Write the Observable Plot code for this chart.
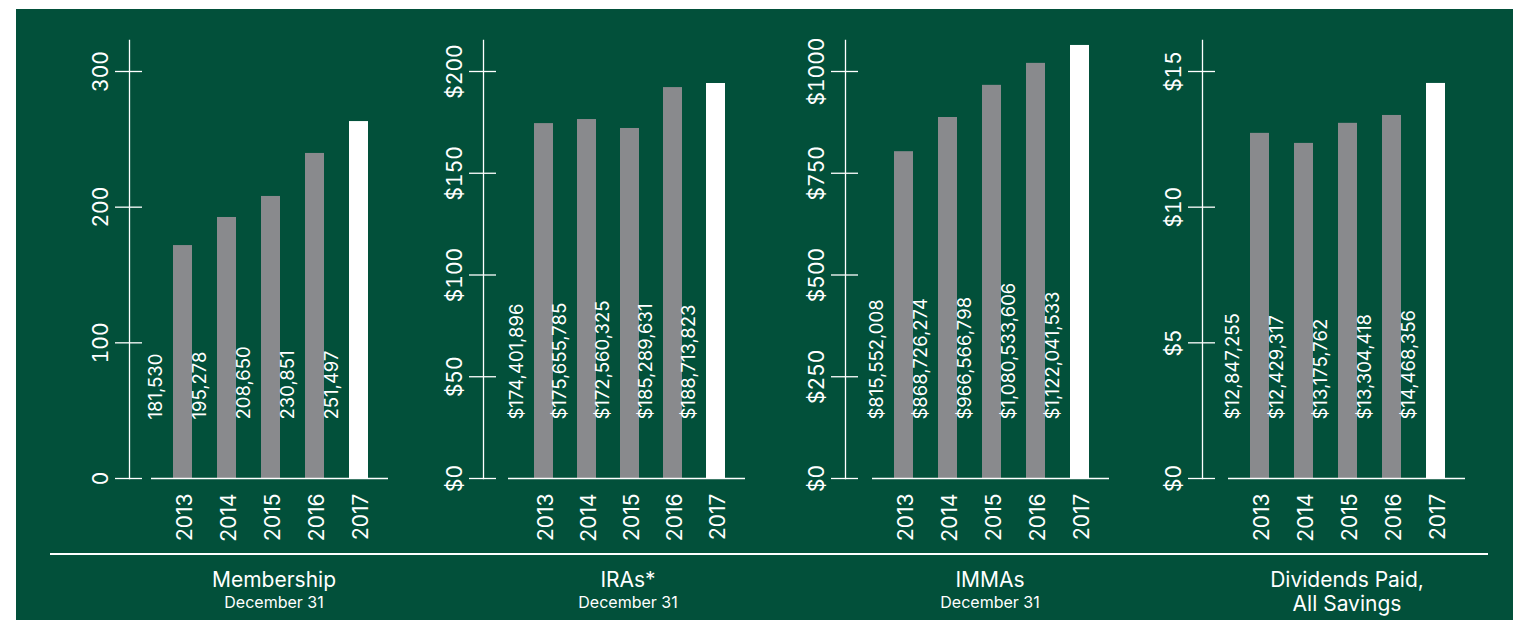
<!DOCTYPE html>
<html><head><meta charset="utf-8">
<script src="https://cdn.jsdelivr.net/npm/d3@7"></script>
<script src="https://cdn.jsdelivr.net/npm/@observablehq/plot@0.6"></script>
<style>
body{margin:0;background:#fff;width:1513px;height:620px;overflow:hidden;position:relative;font-family:Inter,"DejaVu Sans",sans-serif;}
#bg{position:absolute;left:16px;top:9px;right:0;bottom:0;background:#02503a;}
#sep{position:absolute;left:50px;width:1438px;top:553px;height:1.5px;background:#fff;}
.panel{position:absolute;top:0;width:380px;height:545px;}
.panel svg{max-width:none !important;}
.title{position:absolute;top:568px;width:280px;text-align:center;color:#fff;font-size:21px;line-height:24px;}
.sub{display:block;font-size:16px;line-height:19px;margin-top:1px;}
</style></head><body>
<div id="bg"></div><div id="sep"></div>
<div id="root"></div>
<script>
const years = ["2013", "2014", "2015", "2016", "2017"];
const highlightYear = "2017";

const membershipValues = [171.7, 192.4, 207.9, 239.6, 263.1];
const membershipLabels = ["181,530", "195,278", "208,650", "230,851", "251,497"];
const membershipTicks = [0, 100, 200, 300];
const membershipTickLabels = ["0", "100", "200", "300"];

const iraValues = [174.4, 176.4, 172.0, 192.1, 194.1];
const iraLabels = ["$174,401,896", "$175,655,785", "$172,560,325", "$185,289,631", "$188,713,823"];
const iraTicks = [0, 50, 100, 150, 200];
const iraTickLabels = ["$0", "$50", "$100", "$150", "$200"];

const immaValues = [803, 887, 966, 1020, 1064];
const immaLabels = ["$815,552,008", "$868,726,274", "$966,566,798", "$1,080,533,606", "$1,122,041,533"];
const immaTicks = [0, 250, 500, 750, 1000];
const immaTickLabels = ["$0", "$250", "$500", "$750", "$1000"];

const dividendValues = [12.72, 12.35, 13.09, 13.38, 14.56];
const dividendLabels = ["$12,847,255", "$12,429,317", "$13,175,762", "$13,304,418", "$14,468,356"];
const dividendTicks = [0, 5, 10, 15];
const dividendTickLabels = ["$0", "$5", "$10", "$15"];

const titles = ["Membership", "IRAs*", "IMMAs", "Dividends Paid,<br>All Savings"];
const subtitles = ["December 31", "December 31", "December 31", ""];

const panels = [
  {values: membershipValues, labels: membershipLabels, ticks: membershipTicks, tickLabels: membershipTickLabels},
  {values: iraValues, labels: iraLabels, ticks: iraTicks, tickLabels: iraTickLabels},
  {values: immaValues, labels: immaLabels, ticks: immaTicks, tickLabels: immaTickLabels},
  {values: dividendValues, labels: dividendLabels, ticks: dividendTicks, tickLabels: dividendTickLabels}
];

// layout (page pixel positions)
const layout = [
  {axis: 129, bars: [172, 369], base: [151, 388]},
  {axis: 483, bars: [532, 726], base: [508, 745]},
  {axis: 845, bars: [894, 1090], base: [872, 1109]},
  {axis: 1202, bars: [1250, 1446], base: [1228, 1465]}
];
const W = 380, H = 545, AX = 60, TOP = 40, BOTTOM = 478, TOPTICK = 71;
const root = document.getElementById("root");

panels.forEach((p, i) => {
  const L = layout[i];
  const off = L.axis - AX;
  const data = years.map((year, j) => ({year, value: p.values[j], label: p.labels[j]}));
  const tickMax = d3.max(p.ticks);
  const yMax = tickMax * (BOTTOM - TOP) / (BOTTOM - TOPTICK);
  const chart = Plot.plot({
    width: W, height: H,
    marginLeft: AX, marginRight: W - (L.base[1] - off), marginTop: TOP, marginBottom: H - BOTTOM,
    style: {background: "transparent", color: "#fff", fontFamily: "Inter, 'DejaVu Sans', sans-serif", overflow: "visible", maxWidth: "none"},
    x: {type: "band", domain: years, range: [L.bars[0] - off, L.bars[1] - off], paddingInner: 0.56, paddingOuter: 0},
    y: {domain: [0, yMax]},
    color: {type: "identity"},
    marks: [
      Plot.frame({anchor: "left", stroke: "#fff", strokeWidth: 1.3}),
      Plot.axisY({ticks: p.ticks, tickFormat: (d) => p.tickLabels[p.ticks.indexOf(d)], tickSize: 27, dx: 13, tickPadding: 8, tickRotate: -90, fontSize: 21, strokeWidth: 1.3, label: null}),
      Plot.barY(data, {x: "year", y: "value", fill: (d) => d.year === highlightYear ? "#ffffff" : "#898a8d"}),
      Plot.ruleY([0], {insetLeft: L.base[0] - L.axis, stroke: "#fff", strokeWidth: 1.5}),
      Plot.text(data, {x: "year", frameAnchor: "bottom", text: "label", rotate: -90, textAnchor: "start", dx: -21, dy: -59, fontSize: 18.5, fill: "#fff"}),
      Plot.axisX({tickSize: 0, tickPadding: 15, tickRotate: -90, fontSize: 21, dx: 2.5, label: null})
    ]
  });
  const wrap = document.createElement("div");
  wrap.className = "panel";
  wrap.style.left = off + "px";
  wrap.appendChild(chart);
  root.appendChild(wrap);

  const t = document.createElement("div");
  t.className = "title";
  t.style.left = (L.axis + 145 - 140) + "px";
  t.innerHTML = titles[i] + (subtitles[i] ? `<span class="sub">${subtitles[i]}</span>` : "");
  root.appendChild(t);
});
</script></body></html>
